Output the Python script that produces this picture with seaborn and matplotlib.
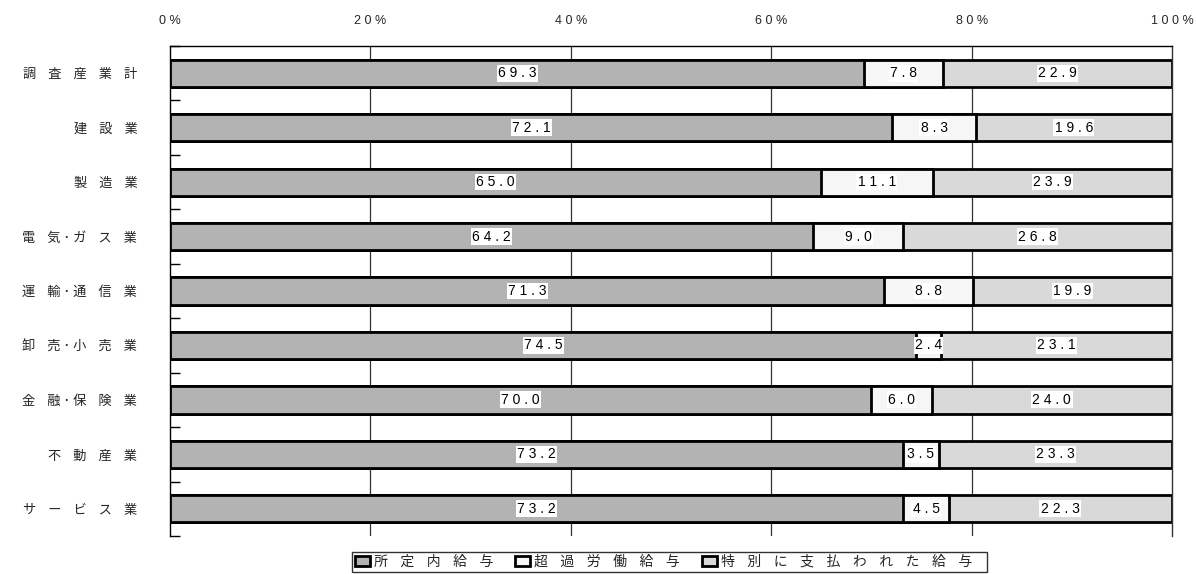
import matplotlib
matplotlib.use("Agg")
import matplotlib.pyplot as plt
import seaborn as sns
import numpy as np
import pandas as pd
from matplotlib.patches import Patch

sns.set_theme(style="white")
plt.rcParams["font.family"] = ["Noto Sans CJK JP", "DejaVu Sans"]

# Wage composition by industry (%)
categories = ["調査産業計", "建設業", "製造業", "電気･ガス業", "運輸･通信業",
              "卸売･小売業", "金融･保険業", "不動産業", "サービス業"]
scheduled = [69.3, 72.1, 65.0, 64.2, 71.3, 74.5, 70.0, 73.2, 73.2]
overtime = [7.8, 8.3, 11.1, 9.0, 8.8, 2.4, 6.0, 3.5, 4.5]
special = [22.9, 19.6, 23.9, 26.8, 19.9, 23.1, 24.0, 23.3, 22.3]
series_names = ["所定内給与", "超過労働給与", "特別に支払われた給与"]
xtick_values = [0, 20, 40, 60, 80, 100]

colors = ["#b3b3b3", "#f6f6f6", "#d9d9d9"]
NUM_FONT = ["Liberation Sans", "DejaVu Sans"]


def spaced(s):
    return " ".join(s)


def spaced_jp(s):
    # wide letter spacing for Japanese labels; narrower around the middle dot
    out = ""
    for i, ch in enumerate(s):
        if i > 0:
            out += " " if (ch == "･" or s[i - 1] == "･") else "    "
        out += ch
    return out


df = pd.DataFrame({
    "category": categories,
    "scheduled": scheduled,
    "overtime": overtime,
    "special": special,
})
df["c1"] = df["scheduled"]
df["c2"] = df["scheduled"] + df["overtime"]
df["c3"] = df["c2"] + df["special"]

fig = plt.figure(figsize=(11.96, 5.74), dpi=100)
ax = fig.add_axes([170 / 1196, 1 - 536 / 574, (1172 - 170) / 1196, (536 - 46) / 574])

# grid lines behind bars
for xv in xtick_values[1:-1]:
    ax.axvline(xv, color="#333333", lw=0.9, zorder=0)

# stacked bars drawn back-to-front as cumulative totals
for col, c in zip(["c3", "c2", "c1"], colors[::-1]):
    sns.barplot(data=df, x=col, y="category", orient="h", color=c,
                saturation=1, edgecolor="black", linewidth=2, width=0.5,
                ax=ax, zorder=2)

# value labels centred in each segment
for i, row in df.iterrows():
    starts = [0, row["c1"], row["c2"]]
    vals = [row["scheduled"], row["overtime"], row["special"]]
    for s, v in zip(starts, vals):
        ax.text(s + v / 2, i, spaced(f"{v:.1f}"), ha="center", va="center",
                fontsize=10, color="black", zorder=5,
                bbox=dict(boxstyle="square,pad=0.1", fc="white", ec="none"),
                family=NUM_FONT)

ax.set_xlim(0, 100)
ax.set_ylim(8.5, -0.5)
ax.xaxis.tick_top()
ax.set_xticks(xtick_values)
ax.set_xticklabels([spaced(f"{v}%") for v in xtick_values], fontsize=9,
                   family=NUM_FONT)
ax.tick_params(axis="x", length=0, pad=14)
ax.set_yticks(range(len(categories)))
ax.set_yticklabels([spaced_jp(c) for c in categories], fontsize=9.5)
ax.tick_params(axis="y", which="major", length=0, pad=23.5)
ax.set_yticks(np.arange(-0.5, len(categories)), minor=True)
ax.tick_params(axis="y", which="minor", direction="in", length=7, width=1,
               color="black", left=True)
ax.set_xlabel("")
ax.set_ylabel("")

for side in ["left", "top", "right"]:
    ax.spines[side].set_visible(True)
    ax.spines[side].set_color("black")
    ax.spines[side].set_linewidth(1)
ax.spines["right"].set_color("#333333")
ax.spines["bottom"].set_visible(False)

handles = [Patch(facecolor=c, edgecolor="black", linewidth=2) for c in colors]
labels = [spaced_jp(n) for n in series_names]
labels[-1] = labels[-1] + "    "
leg = fig.legend(handles, labels, ncol=3,
                 loc="upper left", bbox_to_anchor=(352 / 1196, 1 - 552 / 574),
                 frameon=True, fancybox=False, fontsize=10, handlelength=1.1,
                 handleheight=0.8, handletextpad=0.25, columnspacing=1.6,
                 borderpad=0.2, borderaxespad=0)
leg.get_frame().set_edgecolor("black")
leg.get_frame().set_linewidth(1)

fig.savefig("out.png", dpi=100)
